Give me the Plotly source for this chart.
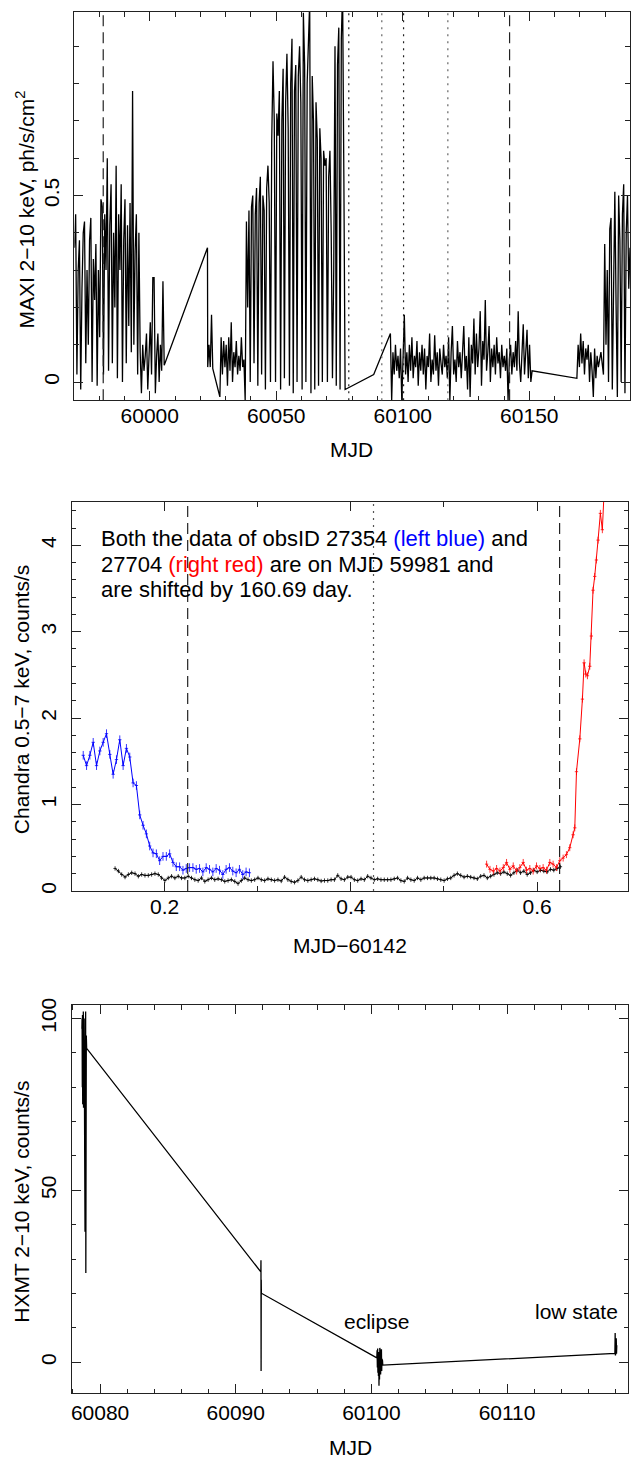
import numpy as np
import plotly.graph_objects as go

W, H = 642, 1466
FONT = "Liberation Sans, Arial, Helvetica, sans-serif"
AX = "#222222"

# ---------------- Panel 1: MAXI 2-10 keV light curve ----------------
maxi_step = 0.5
maxi_a_start = 59970.2
maxi_a = [0.36, 0.45, 0.02, 0.30, 0.38, -0.02, 0.25, 0.40, 0.43, 0.05,
          0.30, 0.10, 0.38, 0.44, 0.00, 0.33, 0.22, 0.37, -0.01, 0.30,
          0.12, 0.49, 0.47, 0.02, 0.45, 0.30, 0.60, 0.03, 0.42, 0.53,
          0.05, 0.40, 0.20, 0.58, 0.01, 0.45, 0.30, 0.53, 0.00, 0.38,
          0.49, 0.05, 0.42, 0.15, 0.48, 0.08, 0.78, 0.10, 0.35, 0.45,
          0.02, 0.40, 0.08, -0.03, 0.10, 0.03, 0.07, 0.13, -0.02, 0.06,
          0.16, 0.02, 0.28, 0.28, -0.03, 0.07, 0.13, 0.00, 0.10, 0.03,
          0.27, 0.045]
maxi_b_start = 60022.9
maxi_b = [0.04, 0.10, 0.04, 0.18, 0.036]
maxi_c_start = 60028.2
maxi_c = [0.12, 0.02, 0.11, 0.04, 0.10, -0.01, 0.12, 0.03, 0.16, 0.00,
          0.08, 0.04, 0.11, 0.02, 0.07, 0.03, 0.12, 0.04, 0.06, -0.05,
          # main-on state
          0.43, 0.20, 0.46, 0.00, 0.47, 0.50, 0.05, 0.45, 0.52, -0.01,
          0.48, 0.55, 0.02, 0.50, 0.46, -0.02, 0.52, 0.58, 0.48, 0.00,
          0.65, 0.86, 0.70, 0.00, 0.72, 0.66, 0.78, -0.02, 0.70, 0.84,
          0.01, 0.75, 0.88, 0.68, -0.01, 0.80, 0.92, -0.03, 0.78, 0.85,
          0.00, 0.82, 0.90, 0.75, -0.02, 0.99, 0.85, 0.00, 0.80, 0.92,
          1.02, -0.03, 0.82, 0.70, -0.02, 0.75, 0.65, -0.01, 0.68, 0.60,
          0.00, 0.62, 0.58, 0.60, 0.00, 0.55, 0.62, 0.40, 0.01, 0.30,
          0.90, -0.01, 0.85, 0.95, -0.02, 0.92, 1.05, 0.55, -0.02]
maxi_d_start = 60095.6
maxi_d = [-0.05, 0.08, 0.02, 0.10, 0.03, 0.07, 0.01, 0.09, -0.05, 0.06,
          0.18, 0.02, 0.08, 0.00, 0.10, 0.03, 0.12, 0.01, 0.07, 0.04,
          0.11, -0.01, 0.08, 0.03, 0.10, 0.02, 0.09, -0.02, 0.07, 0.04,
          0.13, 0.00, 0.06, 0.02, 0.125, 0.03, 0.08, -0.01, 0.09, 0.05,
          0.02, 0.10, 0.04, 0.07, 0.01, 0.12, -0.05, 0.08, 0.15, 0.02,
          0.06, 0.00, 0.11, 0.04, 0.08, 0.01, 0.09, 0.15, 0.03, 0.07,
          -0.02, 0.12, -0.04, 0.10, 0.05, 0.17, 0.02, 0.13, 0.04, 0.09,
          0.19, -0.01, 0.11, 0.06, 0.22, 0.03, 0.08, 0.15, 0.00, 0.09,
          0.04, 0.10, 0.02, 0.12, 0.05, 0.08, 0.01, 0.10, 0.04, 0.07,
          0.03, 0.09, -0.05, 0.06, 0.10, 0.02, 0.08, 0.04, 0.11, 0.03,
          0.19, 0.05, 0.00, 0.09, 0.155, 0.02, 0.07, 0.14, 0.01, 0.10,
          0.00, 0.03]
maxi_e_start = 60168.8
maxi_e = [0.01, 0.10, 0.04, 0.13, 0.05, 0.11, 0.02, 0.09, 0.06, 0.10,
          0.00, 0.08, 0.03, -0.04, 0.09, 0.01, 0.07, 0.04, 0.06, 0.08,
          0.05, 0.02, 0.37, 0.10, 0.30, 0.00, 0.41, 0.44, -0.02, 0.35,
          0.51, 0.20, -0.04, 0.50, 0.38, 0.00, 0.45, 0.53, -0.03, 0.40,
          0.50, 0.25, 0.36]
maxi_gap_t = [60022.8, 60027.7, 60088.5, 60095.1]
maxi_gap_v = [0.36, -0.04, 0.02, 0.13]
maxi_dashed = [59981.6, 60142.2]
maxi_dotted = [60078.65, 60091.7, 60100.3, 60117.8]

# ---------------- Panel 2: Chandra 0.5-7 keV ----------------
chan_bin = 0.00357
black_start = 0.1467
black_v = [0.26, 0.23, 0.19, 0.16, 0.19, 0.21, 0.20, 0.17, 0.19, 0.18,
           0.18, 0.19, 0.20, 0.19, 0.15, 0.12, 0.15, 0.17, 0.15, 0.17,
           0.15, 0.15, 0.17, 0.15, 0.13, 0.12, 0.15, 0.11, 0.13, 0.15,
           0.13, 0.14, 0.13, 0.11, 0.12, 0.13, 0.11, 0.085, 0.12, 0.15,
           0.13, 0.12, 0.13, 0.15, 0.13, 0.12, 0.14, 0.13, 0.12, 0.13,
           0.115, 0.16, 0.13, 0.11, 0.10, 0.12, 0.16, 0.13, 0.12, 0.13,
           0.14, 0.13, 0.115, 0.12, 0.12, 0.13, 0.13, 0.18, 0.14, 0.13,
           0.16,
           0.16, 0.13, 0.12, 0.14, 0.13, 0.17, 0.15, 0.13, 0.14, 0.13,
           0.13, 0.13, 0.13, 0.14, 0.15, 0.12, 0.11, 0.15, 0.13, 0.12,
           0.15, 0.13, 0.15, 0.15, 0.15, 0.15, 0.14, 0.13, 0.12, 0.14,
           0.15, 0.18, 0.20, 0.18, 0.16, 0.17, 0.16, 0.15, 0.14, 0.17,
           0.18, 0.15, 0.17, 0.19, 0.21, 0.20, 0.22, 0.20, 0.18, 0.21,
           0.24, 0.21, 0.23, 0.19, 0.21, 0.24, 0.22, 0.24, 0.23, 0.22,
           0.25, 0.24, 0.26, 0.28]
blue_start = 0.1125
blue_v = [1.57, 1.45, 1.57, 1.72, 1.45, 1.62, 1.72, 1.82, 1.58, 1.35,
          1.52, 1.75, 1.45, 1.65, 1.55, 1.25, 1.22, 0.88, 0.76, 0.66,
          0.52, 0.44, 0.43, 0.35, 0.40, 0.40, 0.43, 0.33, 0.28, 0.28,
          0.24, 0.26, 0.27, 0.27, 0.25, 0.26, 0.22, 0.27, 0.25, 0.22,
          0.26, 0.24, 0.19, 0.25, 0.27, 0.23, 0.21, 0.25, 0.19, 0.22,
          0.21]
red_t = [0.5458, 0.5494, 0.5530, 0.5565, 0.5601, 0.5637, 0.5672, 0.5708,
         0.5744, 0.5780, 0.5815, 0.5851, 0.5887, 0.5922, 0.5958, 0.5994,
         0.6030, 0.6065, 0.6101, 0.6137, 0.6172, 0.6208, 0.6244, 0.6280,
         0.6315, 0.6351, 0.6387, 0.6405, 0.6423, 0.6459, 0.6487, 0.6505,
         0.6523, 0.6541, 0.6566, 0.6583, 0.6601, 0.6619, 0.6637, 0.6655,
         0.6680, 0.6701, 0.6719]
red_v = [0.31, 0.25, 0.23, 0.26, 0.23, 0.27, 0.33, 0.25, 0.29, 0.23,
         0.27, 0.33, 0.24, 0.26, 0.23, 0.29, 0.26, 0.27, 0.24, 0.33,
         0.31, 0.27, 0.35, 0.38, 0.42, 0.50, 0.65, 0.73, 1.38, 1.76,
         2.22, 2.64, 2.51, 2.49, 2.60, 2.95, 3.48, 3.64, 3.83, 4.06,
         4.37, 4.18, 4.60]
chan_dashed = [0.2247, 0.6242]
chan_dotted = [0.4243]

# ---------------- Panel 3: HXMT 2-10 keV ----------------
hxmt_t = [60078.66, 60078.675, 60078.69, 60078.705, 60078.72, 60078.735,
          60078.75, 60078.765, 60078.78, 60078.795, 60078.81, 60078.825,
          60078.84, 60078.855, 60078.87, 60078.88, 60078.89, 60078.90,
          60078.91, 60078.92, 60078.935, 60078.95, 60078.965, 60078.985,
          60079.01,
          60091.85, 60091.86, 60091.87, 60091.88, 60091.89,
          60100.40, 60100.42, 60100.44, 60100.46, 60100.48, 60100.50,
          60100.52, 60100.54, 60100.56, 60100.58, 60100.60, 60100.62,
          60100.64, 60100.66, 60100.68, 60100.70, 60100.72, 60100.74,
          60100.76, 60100.78, 60100.80, 60100.82, 60100.84,
          60117.95, 60117.97, 60117.99, 60118.01, 60118.03, 60118.05,
          60118.07, 60118.09]
hxmt_v = [97, 100, 80, 101, 75, 99, 88, 102, 74, 96, 85, 100, 78, 98, 72,
          95, 38, 90, 100, 80, 102, 26, 72, 95, 91.3,
          26.3, 29.7, -2.5, 24.0, 20.1,
          1.3, 3.5, -1.5, 4.0, -3.0, 2.5, -4.0, 3.0, -6.8, 1.5, -5.0, 4.2,
          -2.0, 3.0, -3.5, 2.0, -1.0, 3.8, -2.5, 1.0, -1.8, 0.5, -0.8,
          2.6, 8.5, 2.0, 6.5, 3.0, 7.0, 2.5, 5.0]

# ---------------- build MAXI series ----------------
def seg(start, vals):
    return start + maxi_step * np.arange(len(vals)), np.array(vals, float)

parts = [seg(maxi_a_start, maxi_a), seg(maxi_b_start, maxi_b),
         seg(maxi_c_start, maxi_c), seg(maxi_d_start, maxi_d),
         seg(maxi_e_start, maxi_e),
         (np.array(maxi_gap_t), np.array(maxi_gap_v))]
mt = np.concatenate([p[0] for p in parts])
mv = np.concatenate([p[1] for p in parts])
order = np.argsort(mt, kind="stable")
mt, mv = mt[order], mv[order]

fig = go.Figure()
fig.add_trace(go.Scatter(x=mt, y=mv, mode="lines", line=dict(color="black", width=1.3),
                         xaxis="x", yaxis="y", showlegend=False))

black_t = black_start + chan_bin * np.arange(len(black_v))
blue_t = blue_start + chan_bin * np.arange(len(blue_v))
for tt, vv, col, ev in [(black_t, black_v, "black", 0.025),
                        (blue_t, blue_v, "#0000ff", 0.05),
                        (red_t, red_v, "#ff0000", 0.04)]:
    fig.add_trace(go.Scatter(
        x=tt, y=vv, mode="lines", line=dict(color=col, width=1),
        error_y=dict(type="constant", value=ev, color=col, thickness=0.8, width=0),
        error_x=dict(type="constant", value=chan_bin / 2, color=col, thickness=0.8, width=0),
        xaxis="x2", yaxis="y2", showlegend=False))

fig.add_trace(go.Scatter(x=hxmt_t, y=hxmt_v, mode="lines", line=dict(color="black", width=1.3),
                         xaxis="x3", yaxis="y3", showlegend=False))

# ---------------- reference lines ----------------
shapes = []
def vline(x, xref, yref, dash, color):
    shapes.append(dict(type="line", xref=xref, yref=yref, x0=x, x1=x, y0=0, y1=1,
                       line=dict(color=color, width=1.2, dash=dash)))
for x in maxi_dashed:
    vline(x, "x", "y domain", "11px,6px", "#222")
for i, x in enumerate(maxi_dotted):
    vline(x, "x", "y domain", "2px,5px", "#222" if i % 2 == 0 else "#666")
for x in chan_dashed:
    vline(x, "x2", "y2 domain", "11px,6px", "#222")
for x in chan_dotted:
    vline(x, "x2", "y2 domain", "2px,5px", "#555")

# ---------------- axes ----------------
def pxx(p):
    return p / W

def pxy(p):
    return 1 - p / H

tickfont = dict(family=FONT, size=21, color="black")

def axis(domain, rng, dtick, minor, tick0=0, fmt=None, angle=None, anchor=None, standoff=None):
    d = dict(domain=domain, range=rng, dtick=dtick, tick0=tick0, showline=True,
             linecolor=AX, linewidth=1.2, mirror="allticks", ticks="inside",
             ticklen=9, tickwidth=1, tickcolor=AX, showgrid=False, zeroline=False,
             tickfont=tickfont, anchor=anchor,
             minor=dict(dtick=minor, tick0=tick0, ticks="inside", ticklen=4.5,
                        tickwidth=1, tickcolor=AX, showgrid=False))
    if fmt:
        d["tickformat"] = fmt
    if angle is not None:
        d["tickangle"] = angle
    if standoff is not None:
        d["ticklabelstandoff"] = standoff
    return d

fig.update_layout(
    width=W, height=H, margin=dict(l=0, r=0, t=0, b=0),
    paper_bgcolor="white", plot_bgcolor="white",
    font=dict(family=FONT, size=21, color="black"),
    xaxis=axis([pxx(73.5), pxx(630)], [59970.2, 60189.8], 50, 10, 60000, "d", anchor="y", standoff=-4),
    yaxis=axis([pxy(396), pxy(5)], [-0.049, 0.992], 0.5, 0.1, 0, None, -90, anchor="x", standoff=6),
    xaxis2=axis([pxx(70.7), pxx(628.3)], [0.1, 0.698], 0.2, 0.1, 0, None, anchor="y2", standoff=-3),
    yaxis2=axis([pxy(890), pxy(498.5)], [0, 4.5], 1, 0.2, 0, None, -90, anchor="x2", standoff=6),
    xaxis3=axis([pxx(70.7), pxx(628.3)], [60077.9, 60118.94], 10, 2, 60080, "d", anchor="y3", standoff=0),
    yaxis3=axis([pxy(1396), pxy(1005)], [-9.05, 103.85], 50, 10, 0, None, -90, anchor="x3", standoff=6),
    shapes=shapes,
)

ann = []
def paper_text(text, x, y, angle=0, size=21, xanchor="center"):
    ann.append(dict(text=text, x=pxx(x), y=pxy(y), xref="paper", yref="paper",
                    showarrow=False, textangle=angle, xanchor=xanchor, yanchor="middle",
                    font=dict(family=FONT, size=size, color="black")))

paper_text("MAXI 2\u221210 keV, ph/s/cm<sup>2</sup>", 24, 204, -90)
paper_text("MJD", 351, 446)
paper_text("Chandra 0.5\u22127 keV, counts/s", 20, 697, -90)
paper_text("MJD\u221260142", 350, 945)
paper_text("HXMT 2\u221210 keV, counts/s", 21, 1203, -90)
paper_text("MJD", 350, 1450)

paper_text("Both the data of obsID 27354 <span style='color:#0000ff'>(left blue)</span> and",
           98, 535, 0, 22, "left")
paper_text("27704 <span style='color:#ff0000'>(right red)</span> are on MJD 59981 and",
           98, 561, 0, 22, "left")
paper_text("are shifted by 160.69 day.", 98, 587, 0, 22, "left")

ann.append(dict(text="eclipse", x=60100.4, y=12.0, xref="x3", yref="y3", showarrow=False,
                font=dict(family=FONT, size=21, color="black")))
ann.append(dict(text="low state", x=60115.09, y=14.8, xref="x3", yref="y3", showarrow=False,
                font=dict(family=FONT, size=21, color="black")))
fig.update_layout(annotations=ann)

fig.write_html("out.html")
